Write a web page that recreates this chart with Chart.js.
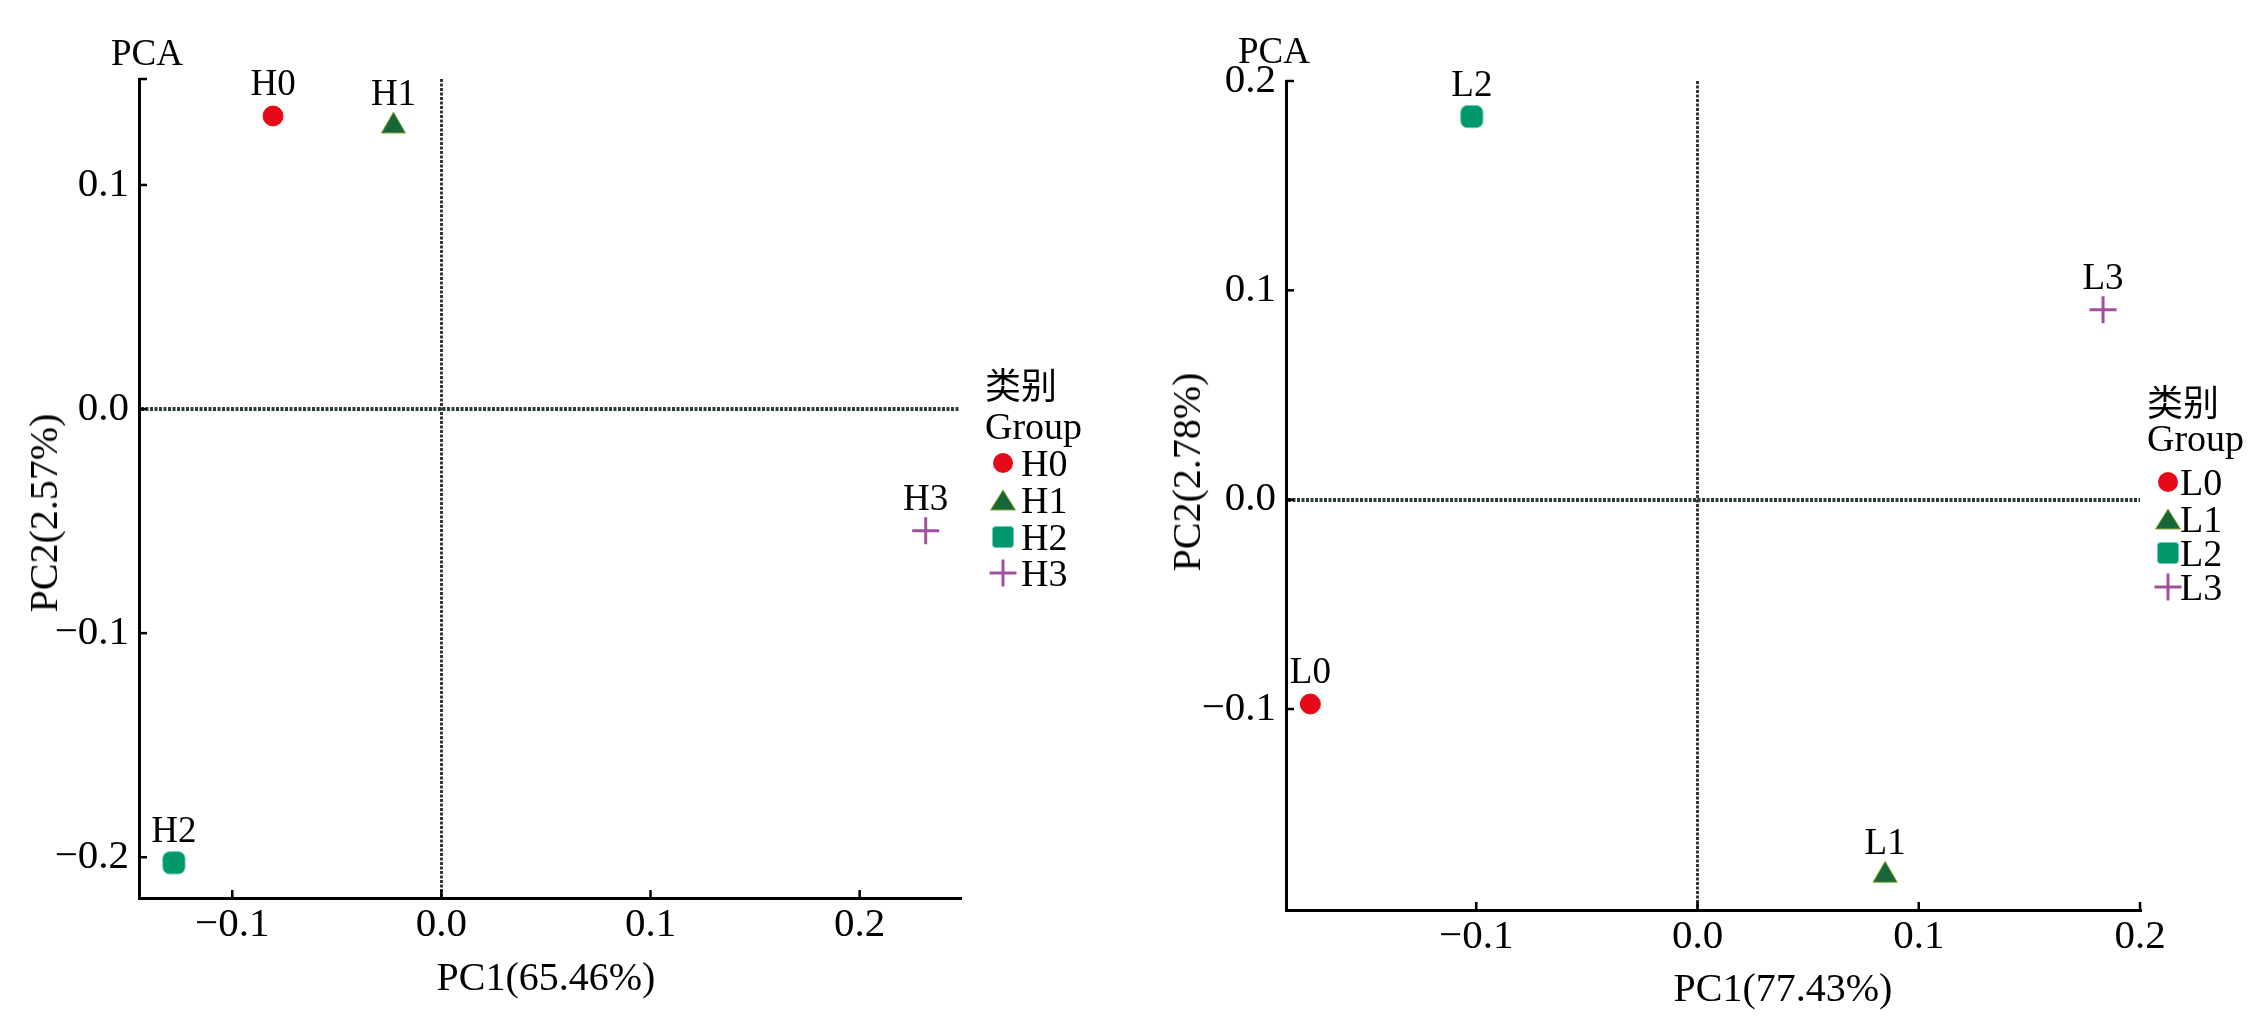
<!DOCTYPE html>
<html>
<head>
<meta charset="utf-8">
<script src="https://cdn.jsdelivr.net/npm/chart.js@4.4.1/dist/chart.umd.min.js"></script>
<style>
html,body{margin:0;padding:0;background:#fff;}
body{width:2252px;height:1019px;position:relative;overflow:hidden;font-family:"Liberation Serif","DejaVu Serif",serif;color:#000;}
.cv{position:absolute;top:0;}
.t{position:absolute;white-space:nowrap;line-height:1;transform:translate(-50%,-50%);}
.rot{transform:translate(-50%,-50%) rotate(-90deg);}
.lg{position:absolute;white-space:nowrap;line-height:1;transform:translateY(-50%);}
.mk{position:absolute;transform:translate(-50%,-50%);line-height:0;}
.cjk{font-family:"Noto Sans CJK SC",sans-serif;}
</style>
</head>
<body>
<div class="cv" style="left:0;width:1130px;height:1019px"><canvas id="c1" width="1130" height="1019"></canvas></div>
<div class="cv" style="left:1130px;width:1122px;height:1019px"><canvas id="c2" width="1122" height="1019"></canvas></div>
<div id="overlay"></div>
<script>
// ---------------- DATA ----------------
const leftGroups = ['H0', 'H1', 'H2', 'H3'];
const leftPC1 = [-0.0805, -0.0229, -0.1279, 0.2316];
const leftPC2 = [0.1308, 0.1263, -0.2025, -0.0543];

const rightGroups = ['L0', 'L1', 'L2', 'L3'];
const rightPC1 = [-0.175, 0.0848, -0.102, 0.1833];
const rightPC2 = [-0.0976, -0.1794, 0.183, 0.0907];

const leftXTicks = [-0.1, 0.0, 0.1, 0.2];
const leftYTicks = [-0.2, -0.1, 0.0, 0.1];
const rightXTicks = [-0.1, 0.0, 0.1, 0.2];
const rightYTicks = [-0.1, 0.0, 0.1, 0.2];

const leftXTitle = 'PC1(65.46%)';
const leftYTitle = 'PC2(2.57%)';
const rightXTitle = 'PC1(77.43%)';
const rightYTitle = 'PC2(2.78%)';
const chartTitle = 'PCA';
const legendTitle = ['类别', 'Group'];

// ---------------- STYLES ----------------
const SERIF = '"Liberation Serif","DejaVu Serif",serif';
const ZERO_COLOR = '#2e3a3a';
const markerStyles = [
  {pointStyle: 'circle', radius: 10, bg: '#e60a18', border: '#e60a18', bw: 1},
  {pointStyle: 'triangle', radius: 14, bg: '#17663a', border: '#8fae30', bw: 1},
  {pointStyle: 'rectRounded', radius: 13, bg: '#00976a', border: '#6cc9c9', bw: 1},
  {pointStyle: 'cross', radius: 13.5, bg: '#a24f9c', border: '#a24f9c', bw: 3}
];
const markerSvgs = [
  '<svg width="22" height="22"><circle cx="11" cy="11" r="10" fill="#e60a18"/></svg>',
  '<svg width="27" height="23"><polygon points="13.5,1.5 26,21.5 1,21.5" fill="#17663a" stroke="#8fae30" stroke-width="1"/></svg>',
  '<svg width="23" height="23"><rect x="1" y="1" width="21" height="21" rx="3" fill="#00976a" stroke="#6cc9c9" stroke-width="1"/></svg>',
  '<svg width="29" height="29"><path d="M1 14.5H28M14.5 1V28" stroke="#a24f9c" stroke-width="3"/></svg>'
];

function fmt(v) { return v.toFixed(1).replace('-', '\u2212'); }

const inwardTicks = {
  id: 'inwardTicks',
  afterDraw(chart, args, opts) {
    const ctx = chart.ctx;
    const xs = chart.scales.x, ys = chart.scales.y;
    const len = 8;
    ctx.save();
    ctx.strokeStyle = '#000';
    ctx.lineWidth = 2.5;
    xs.ticks.forEach(t => {
      const px = xs.getPixelForValue(t.value);
      ctx.beginPath(); ctx.moveTo(px, xs.top); ctx.lineTo(px, xs.top - len); ctx.stroke();
    });
    const yvals = ys.ticks.map(t => t.value);
    if (opts && opts.capTop) yvals.push(ys.max);
    yvals.forEach(v => {
      const py = ys.getPixelForValue(v);
      ctx.beginPath(); ctx.moveTo(ys.right, py); ctx.lineTo(ys.right + len, py); ctx.stroke();
    });
    ctx.restore();
  }
};

const pointLabels = {
  id: 'pointLabels',
  afterDatasetsDraw(chart) {
    const ctx = chart.ctx;
    ctx.save();
    ctx.font = '37px ' + SERIF;
    ctx.fillStyle = '#000';
    ctx.textAlign = 'center';
    ctx.textBaseline = 'alphabetic';
    chart.data.datasets.forEach((ds, i) => {
      const el = chart.getDatasetMeta(i).data[0];
      if (el) ctx.fillText(ds.label, el.x, el.y - 21);
    });
    ctx.restore();
  }
};

function makeChart(id, groups, xs, ys, xTicks, yTicks, dims) {
  const datasets = groups.map((g, i) => ({
    label: g,
    data: [{x: xs[i], y: ys[i]}],
    pointStyle: markerStyles[i].pointStyle,
    pointRadius: markerStyles[i].radius,
    pointHoverRadius: markerStyles[i].radius,
    backgroundColor: markerStyles[i].bg,
    borderColor: markerStyles[i].border,
    pointBorderWidth: markerStyles[i].bw,
    clip: false
  }));
  const tickFont = {family: SERIF, size: 41};
  const zeroGrid = (w) => ({
    color: c => (c.tick && c.tick.value === 0) ? ZERO_COLOR : 'rgba(0,0,0,0)',
    lineWidth: w,
    drawTicks: false,
    borderDash: [3, 1.5]
  });
  return new Chart(document.getElementById(id), {
    type: 'scatter',
    data: {datasets},
    options: {
      responsive: false,
      animation: false,
      events: [],
      layout: {padding: {left: 0, top: dims.top, right: dims.right, bottom: 0}},
      plugins: {legend: {display: false}, tooltip: {enabled: false}, inwardTicks: {capTop: dims.capTop}},
      scales: {
        x: {
          type: 'linear', min: dims.xmin, max: dims.xmax,
          afterBuildTicks: s => { s.ticks = xTicks.map(v => ({value: v})); },
          afterFit: s => { s.height = dims.xAxisH; },
          ticks: {padding: 3, font: tickFont, color: '#000', callback: v => fmt(v), maxRotation: 0, autoSkip: false},
          grid: zeroGrid(3),
          border: {display: true, color: '#000', width: 3, dash: [3, 1.5]}
        },
        y: {
          type: 'linear', min: dims.ymin, max: dims.ymax,
          afterBuildTicks: s => { s.ticks = yTicks.map(v => ({value: v})); },
          afterFit: s => { s.width = dims.yAxisW; },
          ticks: {padding: 10, font: tickFont, color: '#000', callback: v => fmt(v), autoSkip: false},
          grid: zeroGrid(4),
          border: {display: true, color: '#000', width: 3, dash: [3, 1.5]}
        }
      }
    },
    plugins: [inwardTicks, pointLabels]
  });
}

makeChart('c1', leftGroups, leftPC1, leftPC2, leftXTicks, leftYTicks, {
  top: 79, right: 170, xAxisH: 121, yAxisW: 139,
  xmin: -0.1446, xmax: 0.248, ymin: -0.2182, ymax: 0.1473, capTop: true
});
makeChart('c2', rightGroups, rightPC1, rightPC2, rightXTicks, rightYTicks, {
  top: 81, right: 112, xAxisH: 109, yAxisW: 156,
  xmin: -0.186, xmax: 0.2, ymin: -0.196, ymax: 0.2, capTop: false
});

// ---------------- TEXT OVERLAY ----------------
const ov = document.getElementById('overlay');
function addText(txt, cls, x, y, size, extra) {
  const d = document.createElement('div');
  d.className = cls;
  d.textContent = txt;
  d.style.left = x + 'px';
  d.style.top = y + 'px';
  d.style.fontSize = size + 'px';
  if (extra) Object.assign(d.style, extra);
  ov.appendChild(d);
  return d;
}
addText(chartTitle, 't', 147, 52, 37);
addText(chartTitle, 't', 1274, 50, 37);
addText(leftXTitle, 't', 546, 977, 40);
addText(rightXTitle, 't', 1783, 988, 40);
addText(leftYTitle, 't rot', 44, 513, 40);
addText(rightYTitle, 't rot', 1187, 472, 40);

function buildLegend(groups, L) {
  addText(legendTitle[0], 'lg cjk', L.titleX, L.titleY[0], 36);
  addText(legendTitle[1], 'lg', L.titleX, L.titleY[1], 38);
  groups.forEach((g, i) => {
    const m = document.createElement('div');
    m.className = 'mk';
    m.innerHTML = markerSvgs[i];
    m.style.left = L.markX + 'px';
    m.style.top = L.itemY[i] + 'px';
    ov.appendChild(m);
    addText(g, 'lg', L.textX, L.itemY[i], 38);
  });
}
buildLegend(leftGroups, {titleX: 985, titleY: [383, 426], markX: 1003, textX: 1021, itemY: [463, 500, 537, 573]});
buildLegend(rightGroups, {titleX: 2147, titleY: [400, 438], markX: 2168, textX: 2180, itemY: [482, 519, 553, 587]});
</script>
</body>
</html>
